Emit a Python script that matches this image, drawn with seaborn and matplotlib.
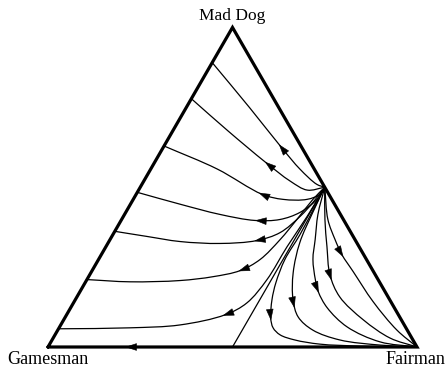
import numpy as np
import pandas as pd
import matplotlib
matplotlib.use("Agg")
import matplotlib.pyplot as plt
from matplotlib.path import Path
from matplotlib.patches import PathPatch, Polygon
import seaborn as sns

sns.set_theme(style="white")
plt.rcParams["font.family"] = ["Liberation Serif", "DejaVu Serif"]

# Population shares as (Fairman, Mad Dog) pairs; Gamesman holds the remainder.
vertex_names = ["Gamesman", "Fairman", "Mad Dog"]
vertex_shares = [(0.0, 0.0), (1.0, 0.0), (0.0, 1.0)]

# Trajectories leaving the rest point on the Fairman / Mad Dog edge
to_edge_1 = [(0.5, 0.5), (0.474, 0.509), (0.404, 0.557), (0.327, 0.619), (0.173, 0.748), (0.0, 0.890)]
to_edge_2 = [(0.5, 0.5), (0.457, 0.491), (0.397, 0.519), (0.299, 0.579), (0.150, 0.676), (0.0, 0.777)]
to_edge_3 = [(0.5, 0.5), (0.498, 0.478), (0.471, 0.462), (0.406, 0.462), (0.341, 0.478), (0.180, 0.557), (0.0, 0.629)]
to_edge_4 = [(0.5, 0.5), (0.498, 0.462), (0.472, 0.421), (0.429, 0.399), (0.363, 0.396), (0.258, 0.415),
             (0.134, 0.447), (0.0, 0.484)]
to_edge_5 = [(0.5, 0.5), (0.492, 0.453), (0.479, 0.409), (0.450, 0.358), (0.399, 0.333), (0.304, 0.324),
             (0.193, 0.330), (0.095, 0.346), (0.0, 0.362)]
to_edge_6 = [(0.5, 0.5), (0.487, 0.462), (0.475, 0.399), (0.461, 0.336), (0.438, 0.274), (0.401, 0.239),
             (0.337, 0.220), (0.254, 0.208), (0.120, 0.204), (0.0, 0.211)]
to_edge_7 = [(0.5, 0.5), (0.498, 0.409), (0.491, 0.314), (0.488, 0.211), (0.470, 0.138), (0.430, 0.101),
             (0.323, 0.069), (0.192, 0.060), (0.0, 0.057)]

to_fairman_1 = [(0.5, 0.5), (0.503, 0.447), (0.507, 0.352), (0.505, 0.274), (0.517, 0.201), (0.533, 0.148),
                (0.558, 0.091), (0.580, 0.060), (0.610, 0.038), (0.658, 0.022), (0.732, 0.009), (0.844, 0.003),
                (1.0, 0.0)]
to_fairman_2 = [(0.5, 0.5), (0.507, 0.421), (0.519, 0.327), (0.548, 0.233), (0.590, 0.148), (0.631, 0.094),
                (0.691, 0.053), (0.780, 0.022), (0.897, 0.006), (1.0, 0.0)]
to_fairman_3 = [(0.5, 0.5), (0.524, 0.415), (0.556, 0.336), (0.581, 0.274), (0.619, 0.211), (0.646, 0.173),
                (0.695, 0.123), (0.779, 0.063), (0.892, 0.016), (1.0, 0.0)]
to_fairman_4 = [(0.5, 0.5), (0.551, 0.399), (0.599, 0.314), (0.651, 0.226), (0.712, 0.157), (0.812, 0.085),
                (0.913, 0.028), (1.0, 0.0)]
to_fairman_5 = [(0.5, 0.5), (0.559, 0.399), (0.610, 0.336), (0.652, 0.289), (0.709, 0.236), (0.810, 0.142),
                (0.919, 0.053), (1.0, 0.0)]

# Straight separatrix (Fairman share fixed at one half) and flow along the base
separatrix = [(0.5, 0.5), (0.5, 0.0)]
base_flow = [(0.5, 0.0), (0.0, 0.0)]

trajectories = [to_edge_1, to_edge_2, to_edge_3, to_edge_4, to_edge_5, to_edge_6, to_edge_7,
                to_fairman_1, to_fairman_2, to_fairman_3, to_fairman_4, to_fairman_5]
# where each arrowhead sits, as a fraction of the trajectory length
arrow_frac = [0.37, 0.41, 0.40, 0.40, 0.39, 0.44, 0.50,
              0.48, 0.48, 0.47, 0.45, 0.38]
base_arrow_frac = 0.57

SQ3 = np.sqrt(3.0) / 2.0


def to_xy(pairs):
    a = np.asarray(pairs, float)
    f, m = a[:, 0], a[:, 1]
    return np.column_stack([f + 0.5 * m, m * SQ3])


def bezier_segments(P, alpha=0.5):
    """Centripetal Catmull-Rom spline through P, as cubic Bezier segments."""
    Q = np.vstack([2 * P[0] - P[1], P, 2 * P[-1] - P[-2]])
    segs = []
    for i in range(1, len(Q) - 2):
        p0, p1, p2, p3 = Q[i - 1], Q[i], Q[i + 1], Q[i + 2]
        d1 = max(np.hypot(*(p1 - p0)) ** alpha, 1e-9)
        d2 = max(np.hypot(*(p2 - p1)) ** alpha, 1e-9)
        d3 = max(np.hypot(*(p3 - p2)) ** alpha, 1e-9)
        c1 = (d1 ** 2 * p2 - d2 ** 2 * p0 + (2 * d1 ** 2 + 3 * d1 * d2 + d2 ** 2) * p1) / (3 * d1 * (d1 + d2))
        c2 = (d3 ** 2 * p1 - d2 ** 2 * p3 + (2 * d3 ** 2 + 3 * d3 * d2 + d2 ** 2) * p2) / (3 * d3 * (d3 + d2))
        segs.append((p1, c1, c2, p2))
    return segs


def curve_path(P):
    segs = bezier_segments(P)
    verts = [segs[0][0]]
    codes = [Path.MOVETO]
    for _, c1, c2, p in segs:
        verts += [c1, c2, p]
        codes += [Path.CURVE4] * 3
    return Path(np.array(verts), codes)


def point_on_curve(P, frac):
    t = np.linspace(0, 1, 60)[:, None]
    pts = []
    for p0, c1, c2, p3 in bezier_segments(P):
        pts.append((1 - t) ** 3 * p0 + 3 * (1 - t) ** 2 * t * c1 + 3 * (1 - t) * t ** 2 * c2 + t ** 3 * p3)
    pts = np.vstack(pts)
    d = np.r_[0, np.cumsum(np.hypot(*np.diff(pts, axis=0).T))]
    k = int(np.clip(np.searchsorted(d, frac * d[-1]), 1, len(pts) - 2))
    v = pts[k + 1] - pts[k - 1]
    return pts[k], v / np.hypot(*v)


def arrowhead(ax, tip, direction, length=0.028, half_width=0.0092):
    n = np.array([-direction[1], direction[0]])
    base = tip - length * direction
    ax.add_patch(Polygon([tip, base + half_width * n, base - half_width * n],
                         closed=True, facecolor="black", edgecolor="black", lw=0.4, zorder=4))


fig = plt.figure(figsize=(4.48, 3.67), dpi=100)
ax = fig.add_axes([0, 0, 1, 1])

for traj, fr in zip(trajectories, arrow_frac):
    P = to_xy(traj)
    ax.add_patch(PathPatch(curve_path(P), facecolor="none", edgecolor="black", lw=0.9,
                           capstyle="round", zorder=2))
    tip, dvec = point_on_curve(P, fr)
    arrowhead(ax, tip, dvec)

sep = to_xy(separatrix)
sns.lineplot(x=sep[:, 0], y=sep[:, 1], sort=False, estimator=None, color="black", lw=0.9, ax=ax, zorder=2)

frame = to_xy(vertex_shares + vertex_shares[:1])
frame_df = pd.DataFrame({"x": frame[:, 0], "y": frame[:, 1]})
sns.lineplot(data=frame_df, x="x", y="y", sort=False, estimator=None, color="black", lw=2.3,
             solid_joinstyle="miter", ax=ax, zorder=3)

B = to_xy(base_flow)
tip, dvec = point_on_curve(B, base_arrow_frac)
arrowhead(ax, tip, dvec)

# vertex labels
corner = to_xy(vertex_shares)
ax.annotate(vertex_names[0], corner[0], xytext=(0, -12.5), textcoords="offset points",
            ha="center", va="baseline", fontsize=13, color="black")
ax.annotate(vertex_names[1], corner[1], xytext=(-1, -12.5), textcoords="offset points",
            ha="center", va="baseline", fontsize=13, color="black")
ax.annotate(vertex_names[2], corner[2], xytext=(0, 5), textcoords="offset points",
            ha="center", va="baseline", fontsize=12.5, color="black")

ax.set_xlim(-48 / 369, 400 / 369)
ax.set_ylim(-20 / 369, 347 / 369)
ax.axis("off")

fig.savefig("out.png", dpi=100, facecolor="white")
